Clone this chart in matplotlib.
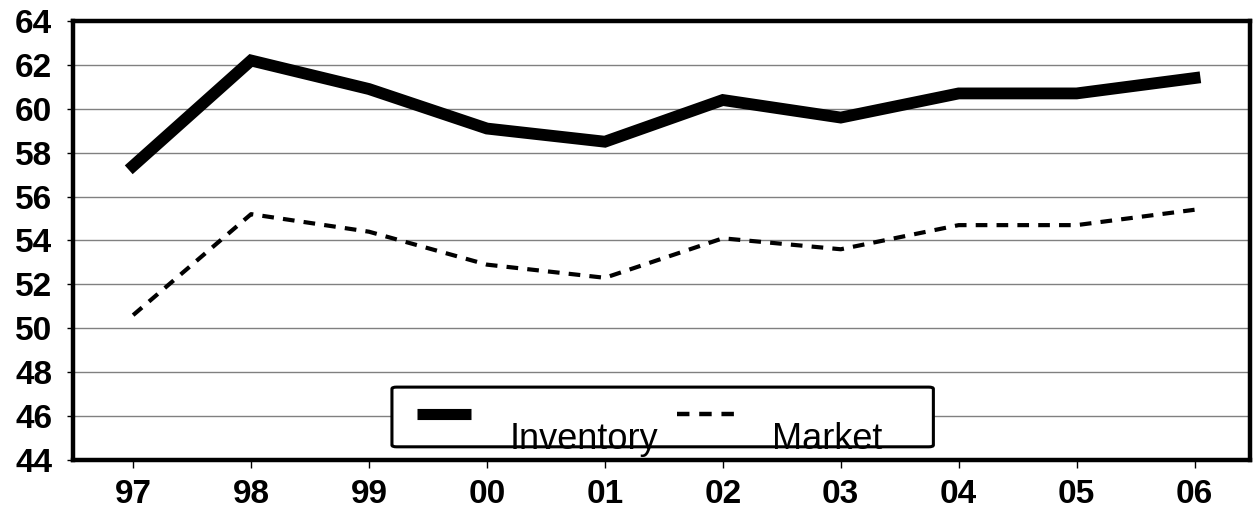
import matplotlib.pyplot as plt
from matplotlib.patches import FancyBboxPatch

years = ["97", "98", "99", "00", "01", "02", "03", "04", "05", "06"]
inventory = [57.4, 62.2, 60.9, 59.1, 58.5, 60.4, 59.6, 60.7, 60.7, 61.4]
market = [50.6, 55.2, 54.4, 52.9, 52.3, 54.1, 53.6, 54.7, 54.7, 55.4]

plt.rcParams['font.family'] = ['Liberation Sans', 'DejaVu Sans']

fig = plt.figure(figsize=(12.54, 5.12), dpi=100)
ax = fig.add_axes([0.0582, 0.1016, 0.9386, 0.8574])

x = range(len(years))
ax.plot(x, inventory, color='black', lw=8.5, solid_joinstyle='miter', zorder=3)
ax.plot(x, market, color='black', lw=3, dashes=(2.8, 2.2), zorder=3)

ax.set_xlim(-0.51, 9.47)
ax.set_ylim(44, 64)
ax.set_yticks(range(44, 65, 2))
ax.set_xticks(list(x))
ax.set_xticklabels(years)
ax.tick_params(axis='y', length=4, width=1, pad=11, labelsize=24)
ax.tick_params(axis='x', length=6, width=1, pad=8, labelsize=24)
for lab in ax.get_xticklabels() + ax.get_yticklabels():
    lab.set_fontweight('bold')

ax.grid(axis='y', color='#808080', lw=1)
ax.set_axisbelow(True)
for s in ax.spines.values():
    s.set_linewidth(3.2)

# legend, drawn by hand to match the odd layout
box = FancyBboxPatch((0.271, 0.03), 0.46, 0.136, boxstyle='round,pad=0,rounding_size=0.004',
                     transform=ax.transAxes, fill=True, facecolor='white',
                     edgecolor='black', lw=2.2, zorder=5, clip_on=False)
ax.add_patch(box)
ax.plot([0.292, 0.338], [0.105, 0.105], transform=ax.transAxes, color='black',
        lw=8, solid_capstyle='butt', zorder=6)
ax.plot([0.513, 0.566], [0.105, 0.105], transform=ax.transAxes, color='black',
        lw=3.2, dashes=(2.8, 2.2), zorder=6)
ax.text(0.371, 0.026, "Inventory", transform=ax.transAxes, fontsize=26,
        va='baseline', ha='left', zorder=7)
ax.text(0.594, 0.026, "Market", transform=ax.transAxes, fontsize=26,
        va='baseline', ha='left', zorder=7)

fig.savefig('out.png', dpi=100)
